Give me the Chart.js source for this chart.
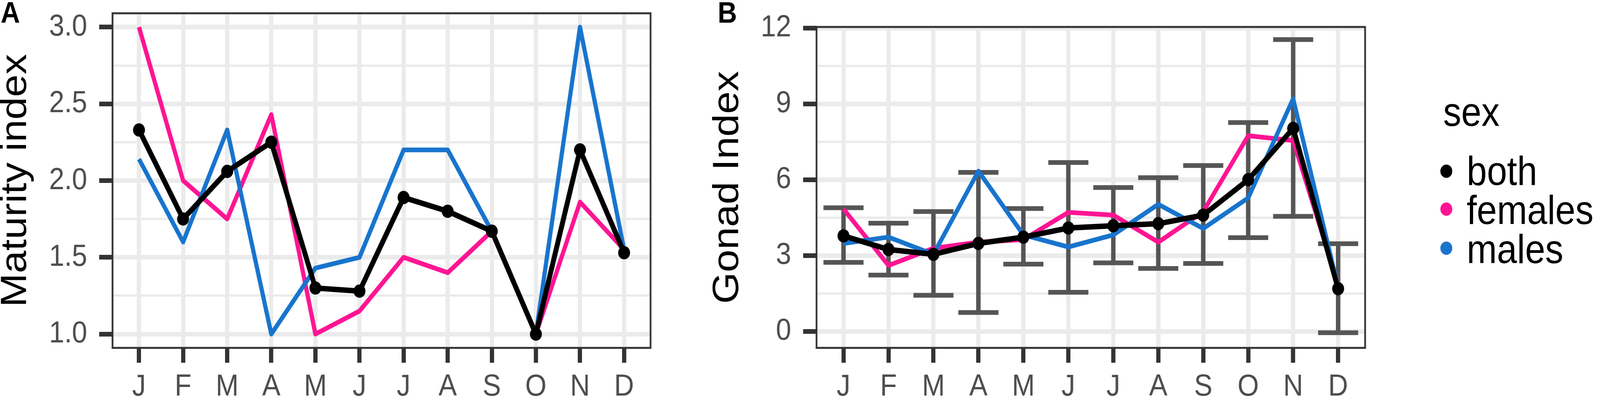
<!DOCTYPE html>
<html><head><meta charset="utf-8">
<script src="https://cdn.jsdelivr.net/npm/chart.js@4.4.1/dist/chart.umd.min.js"></script>
<style>
html,body{margin:0;padding:0;background:#fff;overflow:hidden;}
body{width:4550px;height:1031px;position:relative;font-family:"Liberation Sans",Arial,sans-serif;}
#stage{position:absolute;left:0;top:0;width:4550px;height:1031px;transform-origin:0 0;background:#fff;}
canvas{position:absolute;top:0;}
.lbl{position:absolute;line-height:1;white-space:nowrap;color:#000;}
.dot{position:absolute;width:34px;height:34px;border-radius:50%;}
</style></head><body>
<div id="stage">
<canvas id="cA" width="2025" height="1031" style="left:0px"></canvas>
<canvas id="cB" width="2525" height="1031" style="left:2025px"></canvas>
<div class="lbl" style="left:2px;top:-6px;font-size:76px;font-weight:bold">A</div>
<div class="lbl" style="left:2041px;top:-6px;font-size:76px;font-weight:bold">B</div>
<div class="lbl" style="left:4104px;top:235px;font-size:103px">sex</div>
<div class="dot" style="left:4096px;top:421px;background:#000"></div>
<div class="dot" style="left:4096px;top:518px;background:#FF1493"></div>
<div class="dot" style="left:4096px;top:618px;background:#1874CD"></div>
<div class="lbl" style="left:4171px;top:386px;font-size:103px">both</div>
<div class="lbl" style="left:4171px;top:486px;font-size:103px">females</div>
<div class="lbl" style="left:4171px;top:586px;font-size:103px">males</div>
</div>
<script>
// ---- data ----
const months = ['J','F','M','A','M','J','J','A','S','O','N','D'];

const maturityBoth    = [2.33, 1.75, 2.06, 2.25, 1.30, 1.28, 1.89, 1.80, 1.67, 1.00, 2.20, 1.53];
const maturityFemales = [3.00, 2.00, 1.75, 2.43, 1.00, 1.15, 1.50, 1.40, 1.67, 1.00, 1.86, 1.55];
const maturityMales   = [2.14, 1.60, 2.33, 1.00, 1.43, 1.50, 2.20, 2.20, 1.67, 1.00, 3.00, 1.55];

const gonadBoth    = [3.78, 3.24, 3.05, 3.48, 3.73, 4.09, 4.18, 4.26, 4.60, 6.00, 8.03, 1.69];
const gonadFemales = [4.84, 2.61, 3.29, 3.53, 3.63, 4.71, 4.60, 3.53, 4.74, 7.74, 7.55, 1.85];
const gonadMales   = [3.48, 3.73, 3.05, 6.34, 3.82, 3.34, 3.82, 5.03, 4.07, 5.28, 9.20, 1.75];
const gonadLow     = [2.73, 2.23, 1.43, 0.75, 2.66, 1.55, 2.71, 2.49, 2.69, 3.71, 4.55, -0.05];
const gonadHigh    = [4.89, 4.28, 4.74, 6.29, 4.86, 6.68, 5.69, 6.08, 6.56, 8.26, 11.54, 3.47];

const maturityTicks = [1.0, 1.25, 1.5, 1.75, 2.0, 2.25, 2.5, 2.75, 3.0];
const maturityMajor = [1.0, 1.5, 2.0, 2.5, 3.0];
const gonadTicks = [0, 1.5, 3, 4.5, 6, 7.5, 9, 10.5, 12];
const gonadMajor = [0, 3, 6, 9, 12];

// ---- fit the 4550x1031 design to the actual viewport ----
(function fitStage() {
  const vw = window.innerWidth || 4550, vh = window.innerHeight || 1031;
  const sx = vw / 4550, sy = vh / 1031;
  if (Math.abs(sx - 1) > 0.003 || Math.abs(sy - 1) > 0.003) {
    document.getElementById('stage').style.transform = 'scale(' + sx + ',' + sy + ')';
    document.body.style.width = vw + 'px';
    document.body.style.height = vh + 'px';
  }
})();

// ---- styling ----
const FONT = '"Liberation Sans", Arial, sans-serif';
const GRID = '#EBEBEB';
const TICKC = '#333333';
const TXT = '#4D4D4D';
const ERR = '#555555';
const PINK = '#FF1493';
const BLUE = '#1874CD';

const panelBorder = {
  id: 'panelBorder',
  afterDraw(chart) {
    const {ctx, chartArea: a} = chart;
    ctx.save();
    ctx.strokeStyle = TICKC;
    ctx.lineWidth = 5;
    ctx.strokeRect(a.left, a.top, a.right - a.left, a.bottom - a.top);
    ctx.restore();
  }
};

const xy = arr => arr.map((v, i) => ({x: i, y: v}));

function xScale() {
  return {
    type: 'linear', min: -0.6, max: 11.6, offset: false,
    afterBuildTicks: s => { s.ticks = months.map((m, i) => ({value: i})); },
    afterFit: s => { s.height = 141; s.paddingLeft = 0; s.paddingRight = 0; },
    grid: {offset: false, color: GRID, lineWidth: 12, tickColor: TICKC, tickWidth: 12, tickLength: 38},
    border: {display: false},
    ticks: {autoSkip: false, maxRotation: 0, minRotation: 0, color: TXT,
            font: {family: FONT, size: 78}, padding: 16,
            callback: v => months[Math.round(v)]}
  };
}

function yScale(min, max, ticks, major, width, title, fmt) {
  const isMinor = c => c.tick && !major.includes(c.tick.value);
  return {
    type: 'linear', min: min, max: max, beginAtZero: false,
    afterBuildTicks: s => { s.ticks = ticks.map(v => ({value: v})); },
    afterFit: s => { s.width = width; s.paddingTop = 0; s.paddingBottom = 0; },
    grid: {color: GRID, lineWidth: c => isMinor(c) ? 6 : 12,
           tickColor: c => isMinor(c) ? 'rgba(0,0,0,0)' : TICKC, tickWidth: 12, tickLength: 38},
    border: {display: false},
    ticks: {autoSkip: false, color: TXT, font: {family: FONT, size: 78}, padding: 34,
            callback: v => major.includes(v) ? fmt(v) : ''},
    title: {display: true, text: title, color: '#000',
            font: {family: FONT, size: 104, lineHeight: 0.88}, padding: 0}
  };
}

const common = {
  responsive: false, animation: false, devicePixelRatio: 1,
  plugins: {legend: {display: false}, tooltip: {enabled: false}},
  elements: {line: {tension: 0, borderJoinStyle: 'round', borderCapStyle: 'butt'}}
};

new Chart(document.getElementById('cA'), {
  type: 'line',
  data: {datasets: [
    {label: 'both', data: xy(maturityBoth), borderColor: '#000', backgroundColor: '#000',
     borderWidth: 14, pointRadius: 17, pointBorderWidth: 0, order: 0},
    {label: 'males', data: xy(maturityMales), borderColor: BLUE, borderWidth: 12, pointRadius: 0, order: 1},
    {label: 'females', data: xy(maturityFemales), borderColor: PINK, borderWidth: 12, pointRadius: 0, order: 2}
  ]},
  options: Object.assign({}, common, {
    layout: {padding: {left: 0, top: 34, right: 175, bottom: 0}},
    scales: {
      x: xScale(),
      y: yScale(0.91, 3.09, maturityTicks, maturityMajor, 320, 'Maturity index', v => v.toFixed(1))
    }
  }),
  plugins: [panelBorder]
});

new Chart(document.getElementById('cB'), {
  type: 'line',
  data: {datasets: [
    {label: 'both', data: xy(gonadBoth), borderColor: '#000', backgroundColor: '#000',
     borderWidth: 14, pointRadius: 17, pointBorderWidth: 0, order: 0},
    {label: 'males', data: xy(gonadMales), borderColor: BLUE, borderWidth: 12, pointRadius: 0, order: 1},
    {label: 'females', data: xy(gonadFemales), borderColor: PINK, borderWidth: 12, pointRadius: 0, order: 2},
    {label: 'upper', data: xy(gonadHigh), showLine: false, pointStyle: 'line', pointRadius: 57,
     pointBorderWidth: 12, pointBorderColor: ERR, borderColor: ERR, order: 3},
    {label: 'lower', data: xy(gonadLow), showLine: false, pointStyle: 'line', pointRadius: 57,
     pointBorderWidth: 12, pointBorderColor: ERR, borderColor: ERR, order: 4},
    {type: 'bar', label: 'range', data: gonadLow.map((lo, i) => ({x: i, y: [lo, gonadHigh[i]]})),
     backgroundColor: ERR, barThickness: 12, grouped: false, order: 5}
  ]},
  options: Object.assign({}, common, {
    layout: {padding: {left: 0, top: 32, right: 668, bottom: 0}},
    scales: {
      x: xScale(),
      y: yScale(-0.65, 12.04, gonadTicks, gonadMajor, 297, 'Gonad Index', v => String(v))
    }
  }),
  plugins: [panelBorder]
});
</script>
</body></html>
